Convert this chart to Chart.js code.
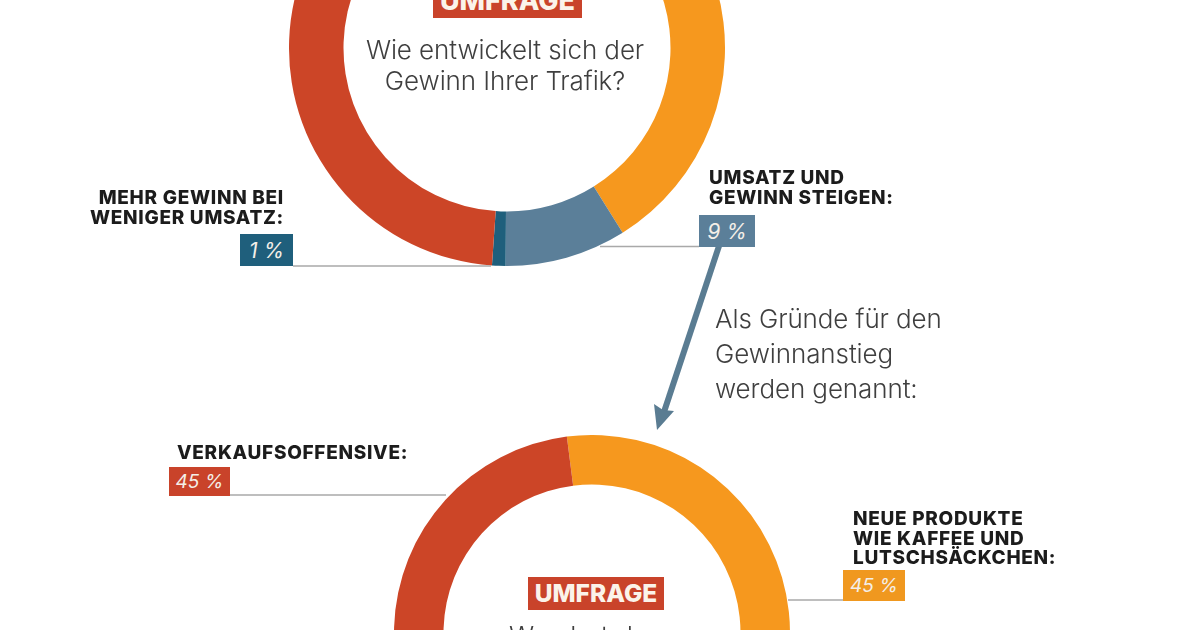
<!DOCTYPE html>
<html lang="de">
<head>
<meta charset="utf-8">
<title>Umfrage Trafik</title>
<script src="https://cdn.jsdelivr.net/npm/chart.js@4"></script>
<style>
  html, body { margin: 0; background: #fff; }
  body { position: relative; width: 1200px; height: 630px; overflow: hidden; font-family: Inter, sans-serif; }
  canvas { position: absolute; }
  svg { position: absolute; left: 0; top: 0; }
  .label { position: absolute; font-weight: 800; font-size: 19px; letter-spacing: 0.7px; line-height: 19.5px; color: #1c1c1c; white-space: nowrap; }
  .right { text-align: right; }
  .badge { position: absolute; color: #f4efe8; font-size: 19px; font-style: italic; text-align: center; display: flex; align-items: center; justify-content: center; }
  .badge.big { font-size: 21px; }
  .umfrage { position: absolute; background: #c9432a; color: #fbf3ea; font-weight: 800; text-align: center; }
  .question { position: absolute; font-weight: 300; font-size: 26px; letter-spacing: -0.1px; line-height: 31px; color: #3f3f3f; text-align: center; white-space: nowrap; }
</style>
</head>
<body>
<canvas id="donut-top" width="436" height="436" style="left:289px;top:-170px"></canvas>
<canvas id="donut-bottom" width="396" height="396" style="left:394px;top:435px"></canvas>

<svg width="1200" height="630">
  <g stroke="#a9a9a9" stroke-width="1.5">
    <line x1="293" y1="266" x2="491" y2="266" />
    <line x1="600" y1="246.5" x2="699" y2="246.5" />
    <line x1="230" y1="495" x2="446" y2="495" />
    <line x1="788" y1="600" x2="843" y2="600" />
  </g>
  <line x1="719" y1="246" x2="664" y2="412" stroke="#5a7c92" stroke-width="6" />
  <polygon points="657,430 654,404 663,410 674,411" fill="#5a7c92" />
</svg>

<div class="umfrage" style="left:433px;top:-16px;width:149px;height:34px;font-size:27px;line-height:34px">UMFRAGE</div>
<div class="question" style="left:305px;top:34px;width:400px">Wie entwickelt sich der<br>Gewinn Ihrer Trafik?</div>

<div class="label right" style="right:916px;top:188px">MEHR GEWINN BEI<br>WENIGER UMSATZ:</div>
<div class="badge big" style="left:240px;top:234px;width:53px;height:32px;background:#1f5f7c">1 %</div>
<div class="label" style="left:709px;top:168px">UMSATZ UND<br>GEWINN STEIGEN:</div>
<div class="badge big" style="left:699px;top:215px;width:56px;height:32px;background:#5b7f99">9 %</div>

<div class="question" style="left:715px;top:301px;text-align:left;line-height:35px">Als Gründe für den<br>Gewinnanstieg<br>werden genannt:</div>

<div class="label" style="left:177px;top:443px">VERKAUFSOFFENSIVE:</div>
<div class="badge" style="left:169px;top:467px;width:61px;height:29px;background:#c9432a">45 %</div>
<div class="label" style="left:853px;top:509px">NEUE PRODUKTE<br>WIE KAFFEE UND<br>LUTSCHSÄCKCHEN:</div>
<div class="badge" style="left:843px;top:570px;width:62px;height:31px;background:#f0981f">45 %</div>

<div class="umfrage" style="left:528px;top:577px;width:136px;height:33px;font-size:24.5px;line-height:33px">UMFRAGE</div>
<div class="question" style="left:394px;top:620px;width:400px;letter-spacing:0.6px">Was hat dazu</div>

<script>
const topLabels = ["Umsatz sinkt, Gewinn steigt", "Umsatz und Gewinn steigen", "Mehr Gewinn bei weniger Umsatz", "Gewinn sinkt"];
const topValues = [41.1, 9, 1, 48.9];
const topColors = ["#f6981e", "#5b7f99", "#1f5f7c", "#cc4527"];

const bottomLabels = ["Neue Produkte wie Kaffee und Lutschsäckchen", "Sonstiges", "Verkaufsoffensive"];
const bottomValues = [45, 10, 45];
const bottomColors = ["#f6981e", "#5b7f99", "#cc4527"];

function donut(id, labels, values, colors, rotation) {
  new Chart(document.getElementById(id), {
    type: "doughnut",
    data: { labels, datasets: [{ data: values, backgroundColor: colors, borderWidth: 0 }] },
    options: {
      responsive: false,
      animation: false,
      cutout: "75%",
      rotation,
      plugins: { legend: { display: false }, tooltip: { enabled: false } },
    },
  });
}

donut("donut-top", topLabels, topValues, topColors, 0);
donut("donut-bottom", bottomLabels, bottomValues, bottomColors, -7.3);
</script>
</body>
</html>
